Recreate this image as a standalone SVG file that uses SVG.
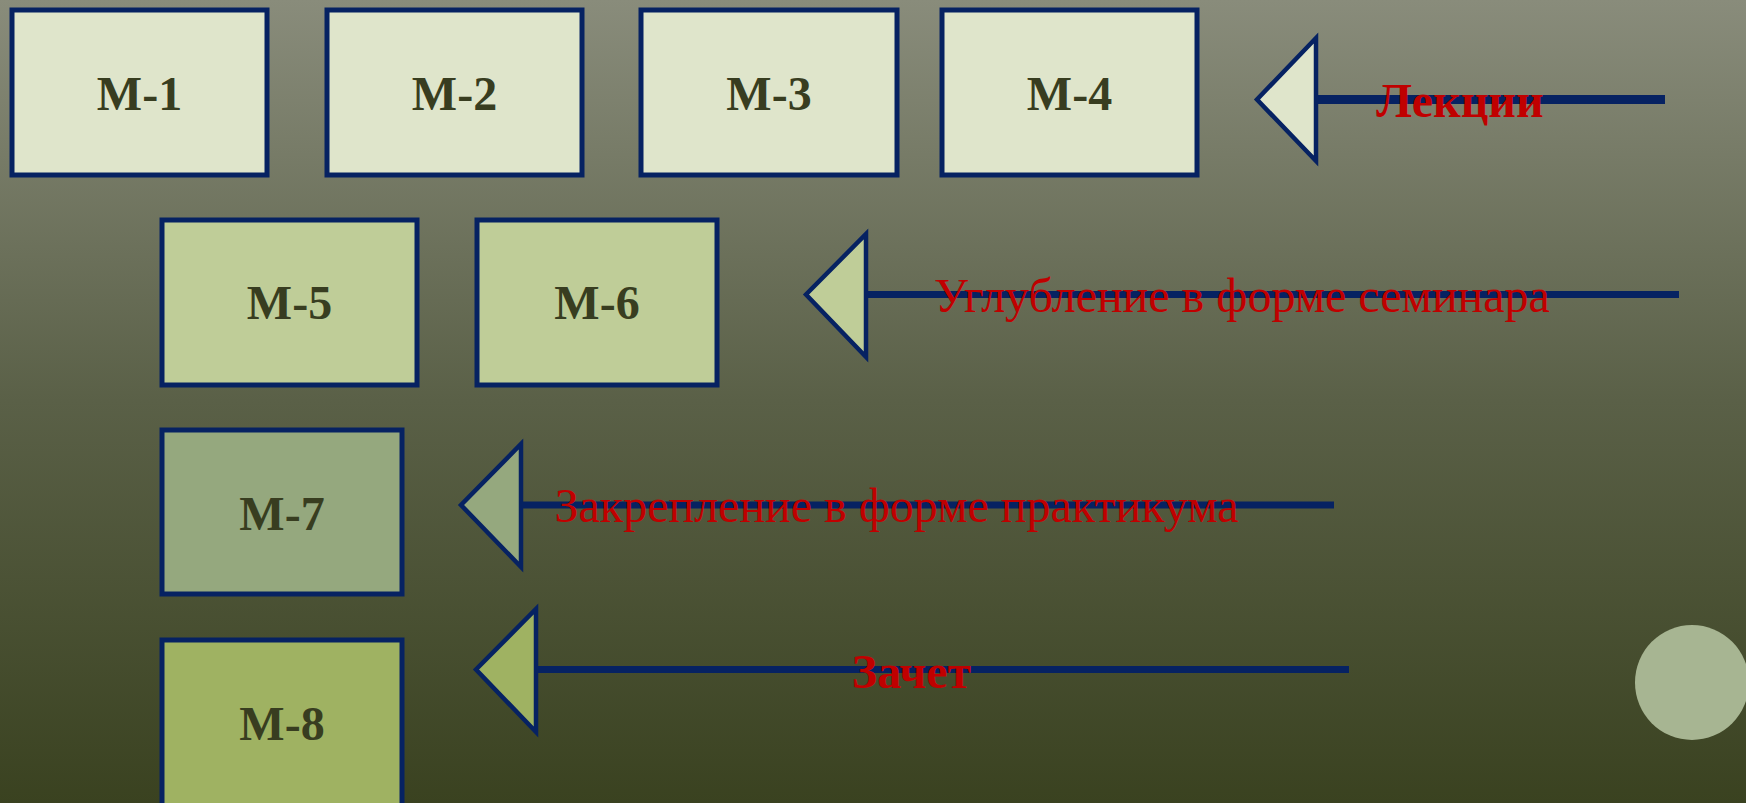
<svg xmlns="http://www.w3.org/2000/svg" width="1746" height="803" viewBox="0 0 1746 803">
<defs>
<linearGradient id="bg" x1="0" y1="0" x2="0" y2="1">
<stop offset="0" stop-color="#898c7b"/>
<stop offset="0.5" stop-color="#5a6047"/>
<stop offset="1" stop-color="#3a4220"/>
</linearGradient>
<style>
.box{stroke:#062262;stroke-width:5}
.lbl{font-family:"Liberation Serif",serif;font-weight:bold;font-size:48px;fill:#383d20;text-anchor:middle}
.tri{stroke:#062262;stroke-width:4.5;stroke-linejoin:miter}
.ln{stroke:#062262;stroke-width:7}
.cap{font-family:"Liberation Serif",serif;font-size:48px;fill:#c00000;text-anchor:middle}
.b{font-weight:bold}
</style>
</defs>
<rect x="0" y="0" width="1746" height="803" fill="url(#bg)"/>
<ellipse cx="1692" cy="682.5" rx="57" ry="57.5" fill="#a7b592"/>

<g id="m1"><rect class="box" x="12" y="10" width="255" height="165" fill="#dfe5cb"/><text class="lbl" x="139.5" y="110">М-1</text></g>
<g id="m2"><rect class="box" x="327" y="10" width="255" height="165" fill="#dfe5cb"/><text class="lbl" x="454.5" y="110">М-2</text></g>
<g id="m3"><rect class="box" x="641" y="10" width="256" height="165" fill="#dfe5cb"/><text class="lbl" x="769" y="110">М-3</text></g>
<g id="m4"><rect class="box" x="942" y="10" width="255" height="165" fill="#dfe5cb"/><text class="lbl" x="1069.5" y="110">М-4</text></g>
<g id="m5"><rect class="box" x="162" y="220" width="255" height="165" fill="#bfcd98"/><text class="lbl" x="289.5" y="319">М-5</text></g>
<g id="m6"><rect class="box" x="477" y="220" width="240" height="165" fill="#bfcd98"/><text class="lbl" x="597" y="319">М-6</text></g>
<g id="m7"><rect class="box" x="162" y="430" width="240" height="164" fill="#95a87e"/><text class="lbl" x="282" y="530">М-7</text></g>
<g id="m8"><rect class="box" x="162" y="640" width="240" height="170" fill="#9fb262"/><text class="lbl" x="282" y="740">М-8</text></g>

<g id="connectors">
<polygon class="tri" points="1316,38 1316,161 1257,99.5" fill="#dfe5cb"/>
<line class="ln" x1="1316" y1="99.5" x2="1665" y2="99.5" style="stroke-width:9"/>
<polygon class="tri" points="866,234 866,357 806,294.5" fill="#bfcd98"/>
<line class="ln" x1="866" y1="294.5" x2="1679" y2="294.5"/>
<polygon class="tri" points="521,444 521,567 461,505" fill="#95a87e"/>
<line class="ln" x1="521" y1="505" x2="1334" y2="505"/>
<polygon class="tri" points="536,609 536,732 476,669.5" fill="#9fb262"/>
<line class="ln" x1="536" y1="669.5" x2="1349" y2="669.5"/>
</g>

<g id="captions">
<text class="cap b" x="1460" y="117">Лекции</text>
<text class="cap" x="1242" y="312">Углубление в форме семинара</text>
<text class="cap" x="896.5" y="522">Закрепление в форме практикума</text>
<text class="cap b" x="911.5" y="688">Зачет</text>
</g>
</svg>
